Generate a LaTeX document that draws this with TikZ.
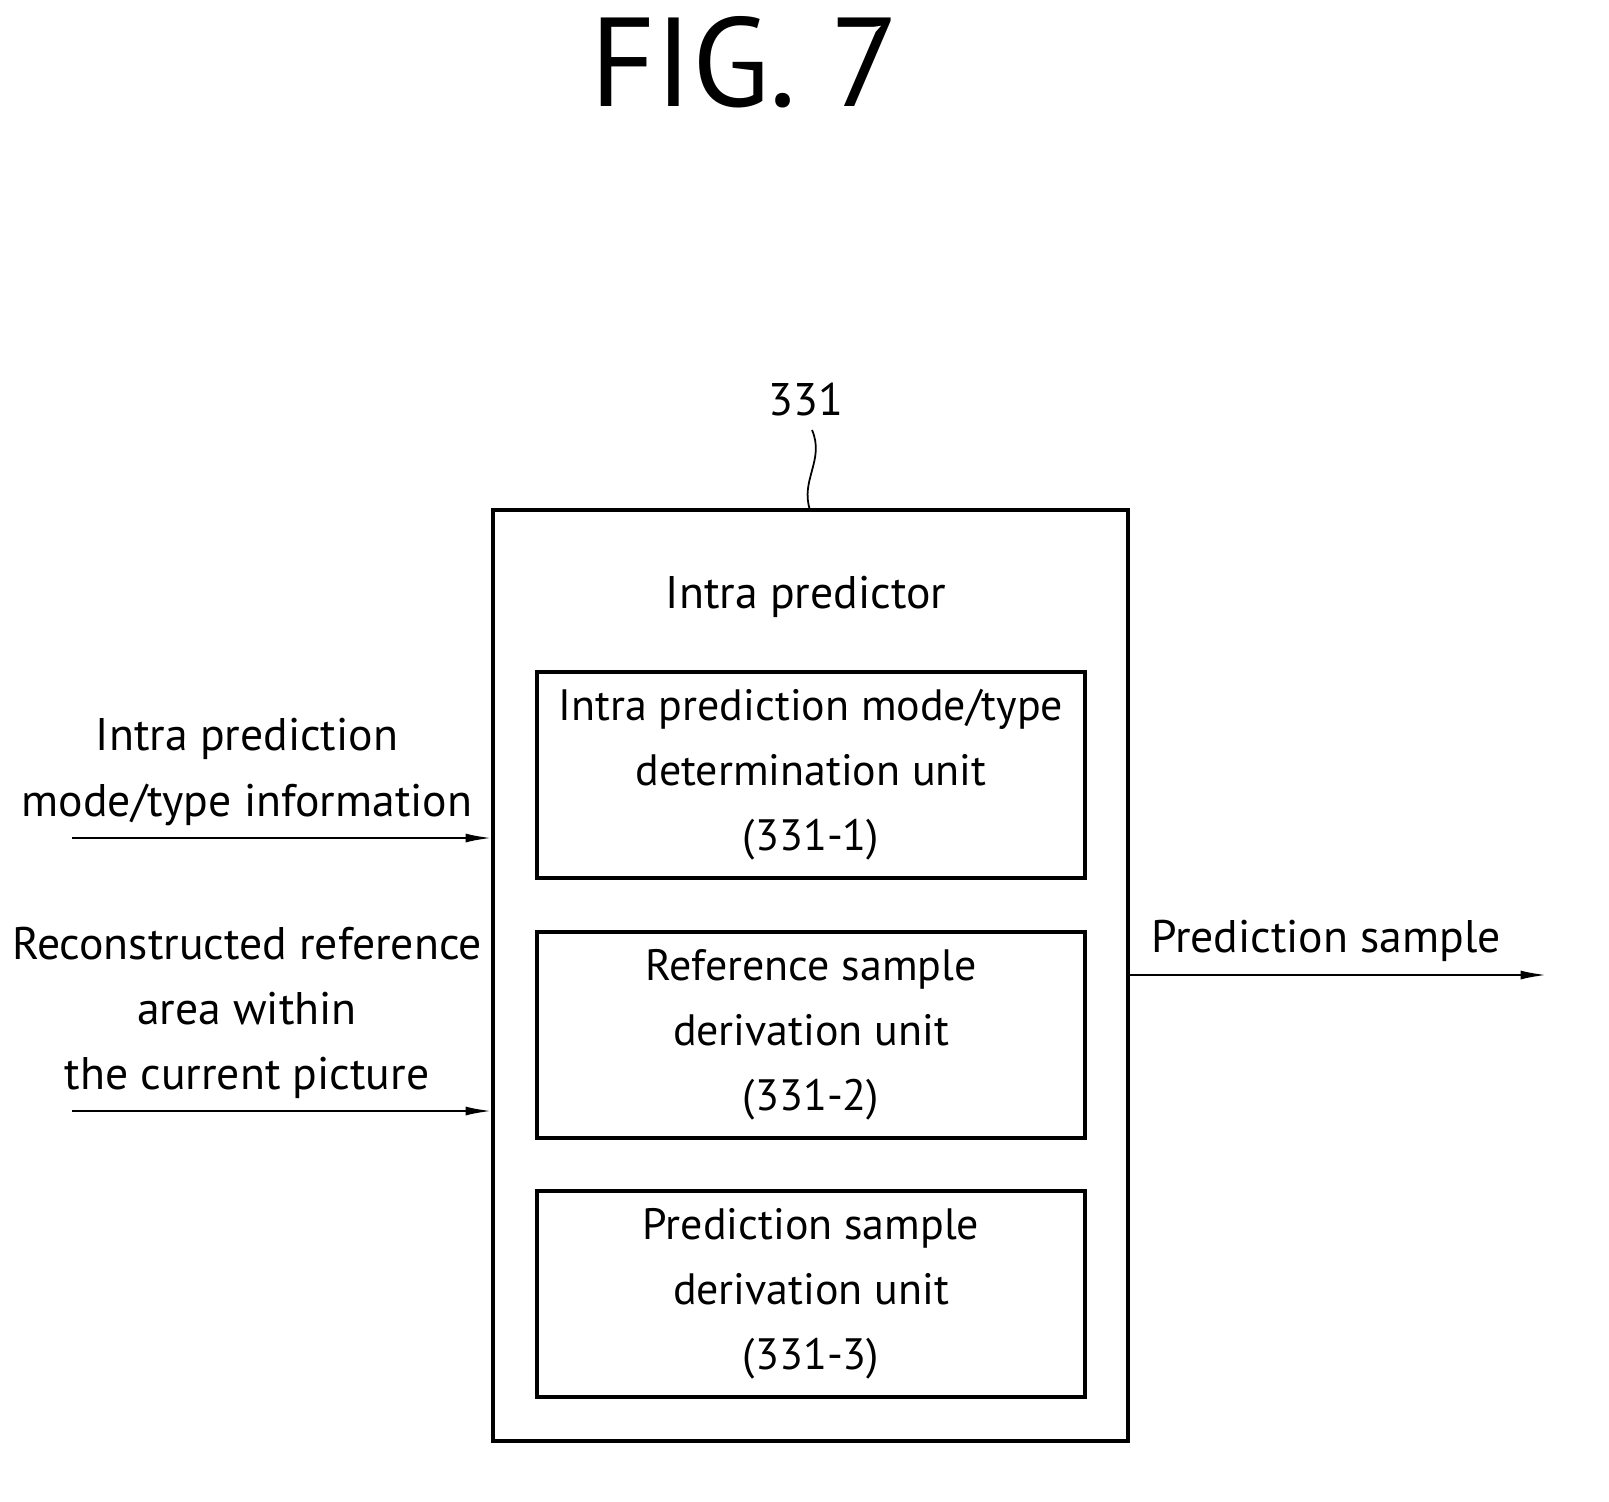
\documentclass[tikz,border=0pt]{standalone}
\usepackage{fontspec}
\setmainfont{PT Sans}
\usetikzlibrary{positioning,arrows.meta,decorations.pathmorphing}

\tikzset{
  unit/.style={draw, line width=1.8pt, inner sep=2pt, minimum width=10.96cm, minimum height=4.12cm, align=center, font=\fontsize{25}{37}\selectfont},
  lbl/.style={align=center, font=\fontsize{26}{37}\selectfont},
  flow/.style={-{Latex[length=0.55cm,width=0.18cm]}, line width=1.6pt},
}

\begin{document}
\begin{tikzpicture}[x=0.02cm,y=-0.02cm]
    \useasboundingbox (0,0) rectangle (1609,1501);

    % title and outer block
    \node (title) at (745,62) {\fontsize{72}{80}\selectfont FIG. 7};
    \draw [line width=2pt] (493,510) rectangle (1128,1441);
    \coordinate (top) at (810,510);
    \node (ref) at (806,400) {\fontsize{26}{32}\selectfont 331};
    \draw [line width=1pt] (top) .. controls (800,480) and (825,460) .. (812,430);
    \node [lbl] (name) at (806,597) {Intra predictor};

    % inner units
    \node [unit] (det) at (811,775) {Intra prediction mode/type\\determination unit\\(331-1)};
    \node [unit] (rsd) at (811,1035) {Reference sample\\derivation unit\\(331-2)};
    \node [unit] (psd) at (811,1294) {Prediction sample\\derivation unit\\(331-3)};

    % inputs and output
    \coordinate (in1) at (72,838);
    \coordinate (in1e) at (493,838);
    \coordinate (in2) at (72,1111);
    \coordinate (in2e) at (493,1111);
    \coordinate (out) at (1128,975);
    \coordinate (oute) at (1548,975);
    \draw [flow] (in1) -- (in1e);
    \draw [flow] (in2) -- (in2e);
    \draw [flow] (out) -- (oute);
    \node [lbl] (mode) at (247,772) {Intra prediction\\mode/type information};
    \node [lbl] (area) at (247,1013) {Reconstructed reference\\area within\\the current picture};
    \node [lbl] (pred) at (1326,941) {Prediction sample};
\end{tikzpicture}
\end{document}
